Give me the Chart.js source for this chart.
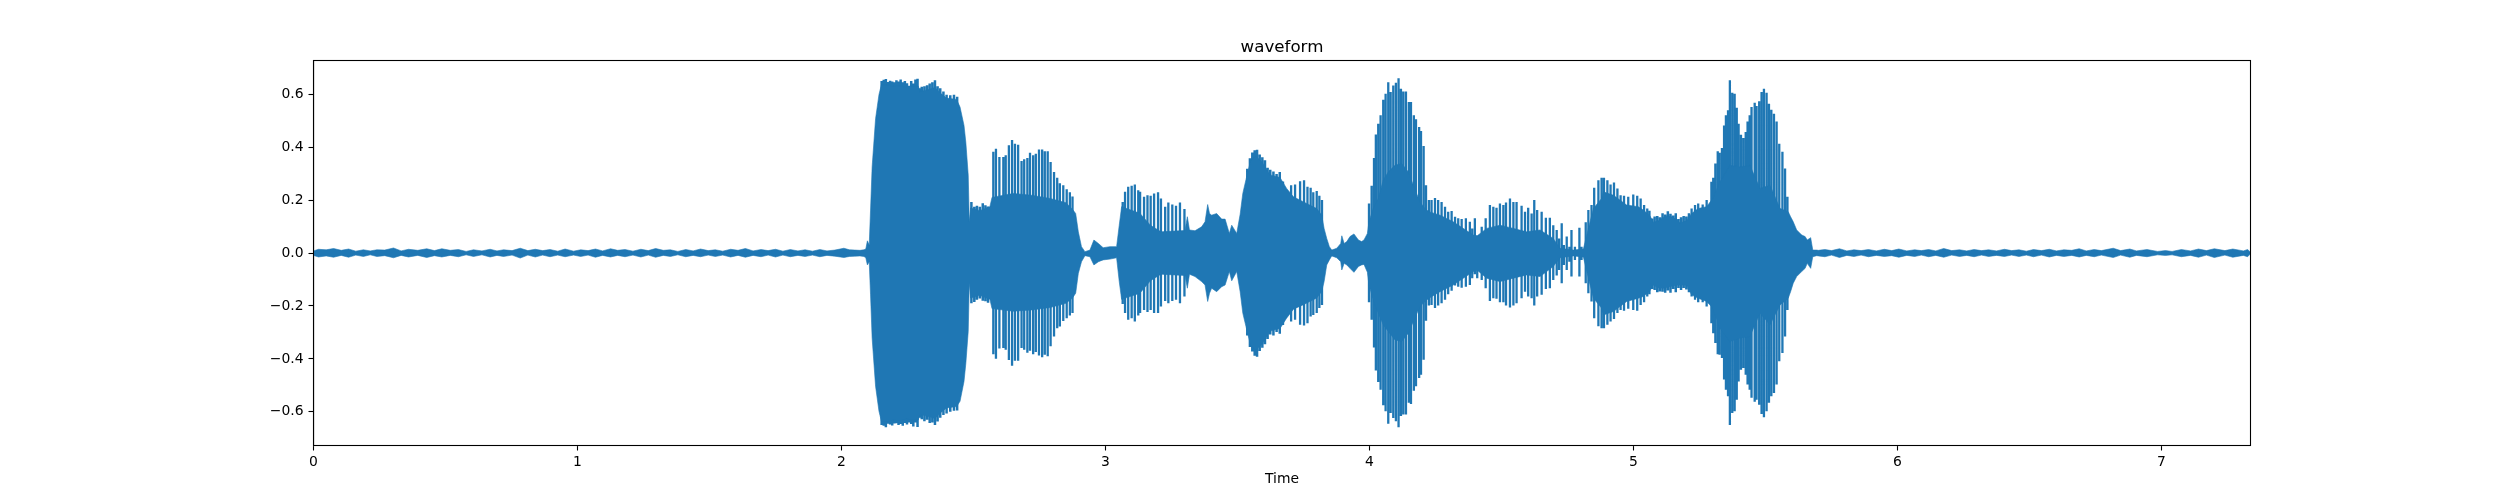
<!DOCTYPE html>
<html>
<head>
<meta charset="utf-8">
<title>waveform</title>
<script src="https://cdn.jsdelivr.net/npm/chart.js@4/dist/chart.umd.min.js"></script>
<style>
html, body { margin: 0; padding: 0; background: #fff; }
#wrap { width: 2500px; height: 500px; }
</style>
</head>
<body>
<div id="wrap"><canvas id="mycanvas" width="2500" height="500"></canvas></div>
<script>
var xTicks = [0, 1, 2, 3, 4, 5, 6, 7];
var yTicks = [-0.6, -0.4, -0.2, 0, 0.2, 0.4, 0.6];
var yTickLabels = ["\u22120.6", "\u22120.4", "\u22120.2", "0.0", "0.2", "0.4", "0.6"];

// silence before the speech
var quietATime = [
	0,.019,.048,.076,.105,.133,.160,.189,.215,.240,
	.270,.303,.332,.360,.395,.429,.458,.486,.518,.549,
	.578,.606,.638,.669,.695,.720,.752,.783,.812,.840,
	.868,.896,.925,.953,.985,1.012,1.040,1.068,1.095,1.125,
	1.152,1.180,1.210,1.240,1.268,1.296,1.325,1.352,1.380,1.410,
	1.438,1.466,1.495,1.522,1.550,1.580,1.608,1.636,1.665,1.695,
	1.722,1.750,1.778,1.806,1.835,1.862,1.890,1.918,1.945,1.975,
	2.009,2.030,2.050,2.070,2.085];
var quietAUpper = [
	.008,.014,.012,.017,.010,.015,.007,.012,.008,.012,
	.011,.019,.008,.014,.010,.016,.009,.016,.010,.013,
	.006,.012,.008,.014,.008,.012,.009,.018,.009,.014,
	.009,.013,.007,.015,.007,.012,.009,.015,.008,.016,
	.010,.013,.007,.014,.009,.017,.010,.012,.006,.013,
	.008,.015,.009,.012,.007,.014,.010,.017,.008,.013,
	.009,.014,.007,.013,.008,.012,.007,.013,.008,.011,
	.018,.012,.011,.010,.012];
var quietALower = [
	-.009,-.015,-.011,-.016,-.009,-.016,-.008,-.013,-.007,-.013,
	-.010,-.018,-.009,-.015,-.009,-.017,-.010,-.015,-.009,-.014,
	-.007,-.013,-.007,-.015,-.009,-.013,-.008,-.019,-.008,-.015,
	-.008,-.014,-.008,-.014,-.008,-.013,-.008,-.016,-.009,-.015,
	-.009,-.014,-.008,-.015,-.008,-.016,-.009,-.013,-.007,-.014,
	-.009,-.014,-.008,-.013,-.008,-.015,-.009,-.016,-.009,-.014,
	-.008,-.015,-.008,-.014,-.009,-.013,-.008,-.014,-.009,-.012,
	-.017,-.013,-.012,-.011,-.013];

// solid body of the speech (comb teeth are in the spike arrays below)
var speechTime = [
	2.092,2.098,2.105,2.110,2.116,2.129,2.142,2.151,2.171,2.196,
	2.221,2.247,2.265,2.291,2.297,2.322,2.354,2.373,2.398,2.436,
	2.449,2.464,2.471,2.480,2.484,2.489,2.524,2.562,2.570,2.650,
	2.720,2.790,2.850,2.875,2.887,2.897,2.909,2.922,2.941,2.956,
	2.973,2.991,3.017,3.042,3.052,3.061,3.130,3.170,3.210,3.301,
	3.310,3.318,3.339,3.364,3.377,3.387,3.394,3.402,3.421,3.440,
	3.453,3.469,3.478,3.497,3.510,3.520,3.535,3.550,3.570,3.592,
	3.623,3.661,3.686,3.712,3.750,3.800,3.819,3.828,3.838,3.848,
	3.857,3.876,3.891,3.895,3.904,3.914,3.926,3.941,3.958,3.970,
	3.979,3.992,3.998,4.014,4.033,4.052,4.071,4.096,4.122,4.147,
	4.166,4.191,4.210,4.225,4.267,4.317,4.393,4.408,4.444,4.494,
	4.545,4.595,4.646,4.696,4.721,4.772,4.810,4.829,4.848,4.879,
	4.886,4.924,4.974,5.018,5.037,5.062,5.075,5.094,5.113,5.132,
	5.163,5.176,5.201,5.220,5.245,5.277,5.300,5.328,5.365,5.403,
	5.441,5.479,5.517,5.555,5.586,5.595,5.605,5.618,5.637,5.650,
	5.658,5.671,5.679,5.694];
var speechUpper = [
	.015,.046,.030,.162,.325,.507,.599,.635,.635,.630,
	.632,.625,.630,.630,.610,.615,.625,.605,.585,.580,
	.551,.482,.417,.294,.118,.170,.160,.175,.210,.225,
	.218,.206,.190,.165,.149,.080,.024,.005,.011,.049,
	.036,.020,.024,.024,.105,.175,.150,.105,.080,.085,
	.137,.087,.084,.099,.118,.183,.149,.143,.149,.128,
	.128,.074,.105,.074,.146,.225,.290,.350,.365,.345,
	.295,.285,.244,.212,.193,.168,.143,.093,.055,.024,
	.011,.018,.036,.065,.036,.043,.062,.072,.049,.043,
	.049,.074,.118,.168,.206,.275,.306,.331,.338,.306,
	.256,.193,.168,.156,.143,.118,.068,.065,.093,.105,
	.093,.080,.087,.055,.018,.011,.015,.093,.168,.206,
	.231,.218,.181,.175,.162,.141,.116,.122,.134,.141,
	.128,.113,.122,.149,.168,.175,.206,.269,.331,.325,
	.331,.244,.256,.168,.156,.137,.118,.087,.068,.062,
	.049,.058,.011,.011];
var speechLower = [
	-.018,-.045,-.033,-.158,-.321,-.503,-.598,-.635,-.635,-.630,
	-.632,-.625,-.630,-.630,-.610,-.615,-.625,-.605,-.585,-.580,
	-.560,-.485,-.416,-.296,-.114,-.170,-.160,-.175,-.210,-.220,
	-.215,-.206,-.190,-.170,-.152,-.077,-.033,-.010,-.014,-.045,
	-.033,-.026,-.023,-.018,-.108,-.175,-.152,-.105,-.080,-.085,
	-.133,-.080,-.089,-.108,-.121,-.183,-.152,-.133,-.146,-.127,
	-.121,-.070,-.105,-.070,-.146,-.227,-.290,-.350,-.365,-.345,
	-.295,-.285,-.246,-.212,-.195,-.170,-.145,-.108,-.045,-.026,
	-.011,-.018,-.033,-.064,-.039,-.045,-.058,-.073,-.051,-.045,
	-.043,-.073,-.121,-.177,-.227,-.271,-.296,-.328,-.334,-.303,
	-.259,-.202,-.183,-.171,-.146,-.121,-.070,-.065,-.095,-.108,
	-.095,-.083,-.089,-.051,-.018,-.011,-.015,-.095,-.171,-.208,
	-.234,-.221,-.183,-.171,-.164,-.143,-.121,-.131,-.133,-.128,
	-.121,-.121,-.121,-.158,-.171,-.183,-.208,-.284,-.334,-.321,
	-.315,-.227,-.271,-.196,-.171,-.146,-.114,-.089,-.070,-.058,
	-.039,-.058,-.014,-.010];

// silence after the speech
var quietBTime = [
	5.700,5.725,5.750,5.780,5.808,5.835,5.862,5.890,5.920,5.950,
	5.978,6.005,6.035,6.065,6.090,6.118,6.145,6.175,6.205,6.235,
	6.262,6.290,6.318,6.345,6.375,6.405,6.432,6.460,6.488,6.515,
	6.545,6.575,6.602,6.630,6.660,6.688,6.715,6.745,6.772,6.817,
	6.845,6.880,6.905,6.945,6.985,7.015,7.040,7.075,7.110,7.140,
	7.170,7.200,7.240,7.270,7.310,7.326,7.337];
var quietBUpper = [
	.010,.013,.009,.016,.008,.012,.009,.013,.008,.014,
	.009,.015,.008,.012,.009,.013,.008,.017,.009,.012,
	.008,.013,.009,.012,.008,.014,.009,.012,.007,.013,
	.009,.014,.008,.012,.010,.016,.008,.013,.009,.018,
	.009,.015,.008,.013,.006,.009,.006,.013,.008,.015,
	.009,.016,.009,.015,.008,.013,.003];
var quietBLower = [
	-.011,-.014,-.008,-.017,-.009,-.013,-.008,-.014,-.009,-.013,
	-.010,-.016,-.009,-.013,-.008,-.014,-.009,-.016,-.008,-.013,
	-.009,-.014,-.008,-.013,-.009,-.013,-.008,-.013,-.008,-.014,
	-.008,-.015,-.009,-.013,-.009,-.015,-.009,-.014,-.008,-.017,
	-.008,-.016,-.009,-.014,-.007,-.009,-.007,-.014,-.009,-.016,
	-.008,-.017,-.008,-.016,-.009,-.014,-.003];

// comb teeth, one vertical stroke per pitch period
var spikeTime = [
	2.575,2.585,2.598,2.613,2.622,2.634,2.646,2.657,2.669,2.682,
	2.692,2.704,2.714,2.726,2.736,2.748,2.760,2.770,2.781,2.792,
	2.805,2.817,2.827,2.840,2.853,2.865,2.875,
	3.065,3.074,3.086,3.099,3.111,3.124,3.131,3.146,3.159,3.171,
	3.184,3.199,3.210,3.226,3.238,3.253,3.267,3.282,3.299,
	3.703,3.718,3.737,3.752,3.765,3.777,3.787,3.800,3.810,3.820,
	3.998,4.008,4.017,4.024,4.033,4.042,4.052,4.061,4.071,4.080,
	4.090,4.100,4.110,4.119,4.128,4.138,4.149,4.157,4.168,4.176,
	4.188,4.195,4.205,4.214,4.225,4.235,4.248,4.260,4.273,4.286,
	4.298,4.311,4.324,4.336,4.349,4.365,4.380,4.389,4.399,4.408,
	4.425,4.440,4.456,4.469,4.481,4.494,4.507,4.517,4.532,4.545,
	4.557,4.576,4.589,4.601,4.614,4.624,4.635,4.652,4.668,4.683,
	4.696,4.709,4.718,4.728,4.736,4.747,4.757,4.765,4.778,4.795,
	4.803,4.819,4.829,4.841,4.851,4.867,4.879,4.888,4.901,4.913,
	4.926,4.939,4.951,4.964,4.980,4.999,5.014,5.027,5.040,5.052,
	5.220,5.233,5.245,5.262,5.277,5.295,5.302,5.310,5.319,5.326,
	5.335,5.343,5.350,5.358,5.365,5.374,5.383,5.391,5.398,5.407,
	5.416,5.425,5.432,5.440,5.447,5.459,5.466,5.476,5.485,5.494,
	5.504,5.513,5.522,5.532,5.542,5.552,5.564,5.574,5.583];
var spikeUpper = [
	.382,.394,.363,.363,.369,.407,.427,.413,.409,.347,
	.354,.359,.379,.369,.375,.391,.391,.384,.384,.344,
	.306,.284,.263,.256,.241,.229,.213,
	.193,.231,.250,.254,.259,.237,.231,.212,.218,.216,
	.225,.229,.206,.175,.191,.183,.178,.191,.166,
	.256,.259,.271,.275,.250,.246,.229,.234,.216,.200,
	.187,.254,.359,.448,.488,.520,.579,.601,.645,.608,
	.633,.643,.660,.620,.610,.610,.570,.570,.520,.505,
	.476,.461,.404,.256,.200,.200,.208,.200,.193,.175,
	.156,.159,.137,.131,.128,.131,.118,.093,.131,.065,
	.099,.131,.181,.175,.171,.187,.181,.191,.206,.193,
	.193,.178,.156,.171,.149,.200,.162,.156,.133,.133,
	.105,.087,.055,.112,.030,.062,.024,.087,.024,.095,
	.024,.116,.162,.181,.246,.275,.284,.284,.275,.259,
	.266,.244,.218,.216,.212,.221,.216,.206,.181,.168,
	.168,.181,.187,.183,.200,.269,.284,.338,.384,.379,
	.397,.482,.520,.539,.652,.605,.601,.549,.488,.447,
	.434,.457,.497,.520,.551,.567,.555,.573,.608,.620,
	.605,.564,.541,.526,.497,.413,.382,.319,.212];
var spikeLower = [
	-.382,-.399,-.361,-.359,-.365,-.404,-.426,-.407,-.407,-.359,
	-.365,-.377,-.369,-.382,-.374,-.387,-.394,-.384,-.390,-.352,
	-.315,-.284,-.278,-.257,-.246,-.236,-.227,
	-.193,-.227,-.252,-.246,-.259,-.236,-.227,-.215,-.223,-.215,
	-.227,-.227,-.202,-.181,-.190,-.181,-.177,-.190,-.164,
	-.259,-.252,-.271,-.274,-.265,-.240,-.234,-.227,-.208,-.196,
	-.186,-.252,-.357,-.444,-.487,-.516,-.575,-.598,-.645,-.604,
	-.623,-.635,-.658,-.616,-.610,-.610,-.566,-.570,-.520,-.503,
	-.472,-.460,-.403,-.256,-.198,-.196,-.208,-.198,-.190,-.177,
	-.156,-.143,-.123,-.127,-.131,-.127,-.121,-.095,-.080,-.095,
	-.102,-.133,-.181,-.171,-.173,-.186,-.186,-.198,-.206,-.198,
	-.190,-.171,-.146,-.164,-.171,-.198,-.164,-.158,-.136,-.133,
	-.102,-.085,-.064,-.114,-.045,-.064,-.033,-.089,-.026,-.089,
	-.026,-.114,-.152,-.183,-.246,-.277,-.284,-.284,-.271,-.259,
	-.249,-.227,-.215,-.218,-.211,-.215,-.218,-.196,-.186,-.164,
	-.164,-.177,-.186,-.186,-.202,-.265,-.303,-.340,-.382,-.384,
	-.397,-.478,-.516,-.541,-.650,-.604,-.598,-.554,-.485,-.441,
	-.434,-.460,-.497,-.516,-.547,-.562,-.554,-.573,-.608,-.620,
	-.598,-.566,-.541,-.529,-.497,-.409,-.378,-.315,-.215];

// jagged edge of the loud solid parts
var edgeTime = [
	2.152,2.160,2.168,2.176,2.184,2.192,2.200,2.208,2.216,2.224,
	2.232,2.240,2.248,2.256,2.264,2.272,2.280,2.288,2.296,2.304,
	2.314,2.324,2.334,2.344,2.354,2.364,2.374,2.386,2.398,2.412,
	2.426,2.438,2.492,2.503,2.513,2.524,2.535,2.545,2.555,
	3.537,3.547,3.556,3.565,3.574,3.584,3.594,3.604,3.614,3.624,
	3.636,3.648,3.660,3.672,
	5.060,5.070,5.080,5.090,5.100,5.110,5.120,5.130,5.140,5.150,
	5.160,5.170,5.180,5.190,5.200,5.210];
var edgeUpper = [
	.650,.654,.657,.646,.651,.648,.645,.652,.648,.655,
	.645,.650,.641,.632,.650,.640,.655,.658,.622,.628,
	.630,.634,.640,.645,.652,.630,.622,.610,.598,.596,
	.598,.590,.193,.175,.178,.175,.188,.180,.176,
	.318,.358,.380,.388,.390,.372,.362,.350,.322,.314,
	.308,.298,.306,.270,
	.160,.130,.138,.140,.135,.150,.145,.158,.148,.142,
	.150,.128,.135,.140,.138,.150];
var edgeLower = [
	-.650,-.652,-.658,-.645,-.648,-.651,-.644,-.643,-.650,-.646,
	-.652,-.642,-.648,-.640,-.646,-.655,-.640,-.657,-.622,-.628,
	-.635,-.630,-.642,-.640,-.650,-.636,-.622,-.612,-.606,-.600,
	-.596,-.595,-.190,-.185,-.177,-.172,-.180,-.182,-.188,
	-.312,-.355,-.372,-.388,-.392,-.370,-.358,-.345,-.325,-.308,
	-.312,-.298,-.305,-.272,
	-.156,-.136,-.140,-.148,-.145,-.146,-.150,-.142,-.150,-.136,
	-.148,-.132,-.140,-.132,-.138,-.148];

var waveColor = "#1f77b4";
var fontFamily = "'DejaVu Sans'";

var bodyTime = quietATime.concat(speechTime, quietBTime);
var bodyUpper = quietAUpper.concat(speechUpper, quietBUpper);
var bodyLower = quietALower.concat(speechLower, quietBLower);

function toPoints(xs, ys) {
	var pts = [];
	for (var i in xs) {
		pts.push({x: xs[i], y: ys[i]});
	}
	return pts;
}

// pairs of points with a gap after each, so every tooth is its own stroke
function toStrokes(xs, tops, bottoms) {
	var pts = [];
	for (var i in xs) {
		pts.push({x: xs[i], y: tops[i]});
		pts.push({x: xs[i], y: bottoms[i]});
		pts.push({x: xs[i], y: null});
	}
	return pts;
}

// top and right spines, the axes only give the left and bottom ones
var frame = {
	id: "frame",
	afterDraw: function(chart) {
		var a = chart.chartArea;
		var c = chart.ctx;
		c.save();
		c.strokeStyle = "#000";
		c.lineWidth = 1.1;
		c.strokeRect(a.left, a.top, a.right - a.left, a.bottom - a.top);
		c.restore();
	}
};

new Chart(document.getElementById("mycanvas"), {
	type: "line",
	data: {
		datasets: [
			{
				data: toPoints(bodyTime, bodyUpper),
				borderColor: waveColor,
				borderWidth: 0.6,
				backgroundColor: waveColor,
				fill: "+1",
				pointRadius: 0
			},
			{
				data: toPoints(bodyTime, bodyLower),
				borderColor: waveColor,
				borderWidth: 0.6,
				fill: false,
				pointRadius: 0
			},
			{
				data: toStrokes(spikeTime, spikeUpper, spikeLower),
				borderColor: waveColor,
				borderWidth: 2.3,
				fill: false,
				pointRadius: 0,
				spanGaps: false
			},
			{
				data: toStrokes(edgeTime, edgeUpper, edgeLower),
				borderColor: waveColor,
				borderWidth: 2.5,
				fill: false,
				pointRadius: 0,
				spanGaps: false
			}
		]
	},
	options: {
		responsive: false,
		animation: false,
		layout: { padding: { left: 0, right: 249.5, top: 0, bottom: 0 } },
		plugins: {
			legend: { display: false },
			tooltip: { enabled: false },
			title: {
				display: true,
				text: "waveform",
				fullSize: false,
				color: "#000",
				font: { family: fontFamily, size: 16.67, weight: "normal" },
				padding: { top: 38, bottom: 2.5 }
			}
		},
		scales: {
			x: {
				type: "linear",
				min: 0,
				max: 7.337,
				afterFit: function(s) { s.height = 54.5; },
				afterBuildTicks: function(s) {
					s.ticks = xTicks.map(function(v) { return {value: v}; });
				},
				grid: { drawOnChartArea: false, tickLength: 5, tickColor: "#000", tickWidth: 1.1 },
				border: { color: "#000", width: 1.1 },
				ticks: {
					color: "#000",
					padding: 4,
					maxRotation: 0,
					font: { family: fontFamily, size: 13.9 }
				},
				title: {
					display: true,
					text: "Time",
					color: "#000",
					font: { family: fontFamily, size: 13.9 },
					padding: { top: 0, bottom: 12 }
				}
			},
			y: {
				type: "linear",
				min: -0.727,
				max: 0.727,
				afterFit: function(s) { s.width = 313.5; },
				afterBuildTicks: function(s) {
					s.ticks = yTicks.map(function(v) { return {value: v}; });
				},
				grid: { drawOnChartArea: false, tickLength: 5, tickColor: "#000", tickWidth: 1.1 },
				border: { color: "#000", width: 1.1 },
				ticks: {
					color: "#000",
					padding: 5,
					font: { family: fontFamily, size: 13.9 },
					callback: function(v, idx) { return yTickLabels[idx]; }
				}
			}
		}
	},
	plugins: [frame]
});
</script>
</body>
</html>
